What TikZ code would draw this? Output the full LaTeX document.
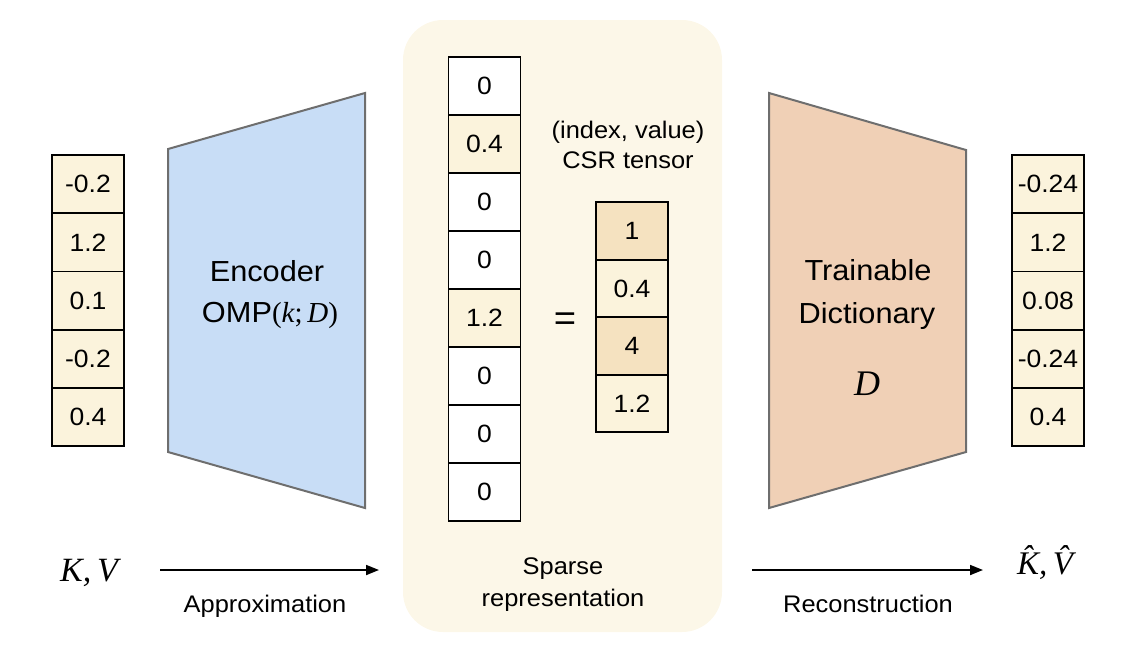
\documentclass[tikz,border=0pt]{standalone}
\usepackage{fontspec}
\setmainfont{Liberation Sans}[FakeStretch=1.06]
\newfontfamily\serifit{Liberation Serif}
\usetikzlibrary{arrows.meta}
\definecolor{cream}{HTML}{FBF3DC}
\definecolor{tan}{HTML}{F5E2C0}
\definecolor{panelbg}{HTML}{FCF7E8}
\definecolor{encblue}{HTML}{C8DDF6}
\definecolor{peach}{HTML}{F0D0B6}
\definecolor{trapline}{HTML}{6E6E6E}
\begin{document}
\begin{tikzpicture}[x=1pt,y=-1pt,
  cell/.style={draw=black,line width=1.8pt,minimum width=72pt,minimum height=58.2pt,inner sep=0pt,font=\fontsize{25}{29}\selectfont},
  trap/.style={draw=trapline,line width=2pt},
  lbl/.style={anchor=base,inner sep=0pt,font=\fontsize{29}{34}\selectfont},
  small/.style={anchor=base,inner sep=0pt,font=\fontsize{24}{28}\selectfont},
  arr/.style={line width=1.8pt,-{Triangle[length=13pt,width=10pt]}}]
\useasboundingbox (0,0) rectangle (1134,654);
% panel
\node[fill=panelbg,rounded corners=40pt,minimum width=319pt,minimum height=612pt,inner sep=0pt] (panel) at (562.5,326) {};
% left vector
\foreach \v [count=\i] in {-0.2,1.2,0.1,-0.2,0.4}
  \node[cell,fill=cream] (L\i) at (88,{125.9+58.2*\i}) {\v};
% encoder
\draw[trap,fill=encblue] (168,149) -- (365,93) -- (365,508) -- (168,452) -- cycle;
\node[lbl] (enc) at (267,281) {Encoder};
\node[lbl] (omp) at (270,322) {OMP{\serifit(\itshape k\upshape;\,\itshape D\upshape)}};
% sparse vector
\foreach \v/\c [count=\i] in {0/white,0.4/cream,0/white,0/white,1.2/cream,0/white,0/white,0/white}
  \node[cell,fill=\c,minimum height=58pt] (S\i) at (484.5,{28+58*\i}) {\v};
\node[small] (idx) at (628,138) {(index, value)};
\node[small] (csr) at (628,168) {CSR tensor};
\node[inner sep=0pt,font=\fontsize{36}{40}\selectfont] (eq) at (565,322) {=};
\foreach \v/\c [count=\i] in {1/tan,0.4/cream,4/tan,1.2/cream}
  \node[cell,fill=\c,minimum height=57.5pt] (C\i) at (632,{173.5+57.5*\i}) {\v};
\node[small] (sp1) at (563,574) {Sparse};
\node[small] (sp2) at (563,606) {representation};
% decoder
\draw[trap,fill=peach] (769,93) -- (966,150) -- (966,452) -- (769,508) -- cycle;
\node[lbl] (tr) at (868,280) {Trainable};
\node[lbl] (dic) at (867,323) {Dictionary};
\node[anchor=base,inner sep=0pt,font=\fontsize{36}{40}\selectfont\serifit\itshape] (dd) at (867,395) {D};
% right vector
\foreach \v [count=\i] in {-0.24,1.2,0.08,-0.24,0.4}
  \node[cell,fill=cream] (R\i) at (1048,{125.9+58.2*\i}) {\v};
% bottom row
\node[anchor=base,inner sep=0pt,font=\fontsize{34}{40}\selectfont\serifit\itshape] (kv) at (89,581) {K,\,V};
\coordinate (a1s) at (160,570);
\coordinate (a1e) at (379,570);
\draw[arr] (a1s) -- (a1e);
\node[small] (approx) at (265,612) {Approximation};
\coordinate (a2s) at (752,570);
\coordinate (a2e) at (983,570);
\draw[arr] (a2s) -- (a2e);
\node[small] (recon) at (868,612) {Reconstruction};
\node[anchor=base,inner sep=0pt,font=\fontsize{33}{40}\selectfont\serifit\itshape] (khat) at (1045,574) {\^{K},\,\^{V}};
\end{tikzpicture}
\end{document}
